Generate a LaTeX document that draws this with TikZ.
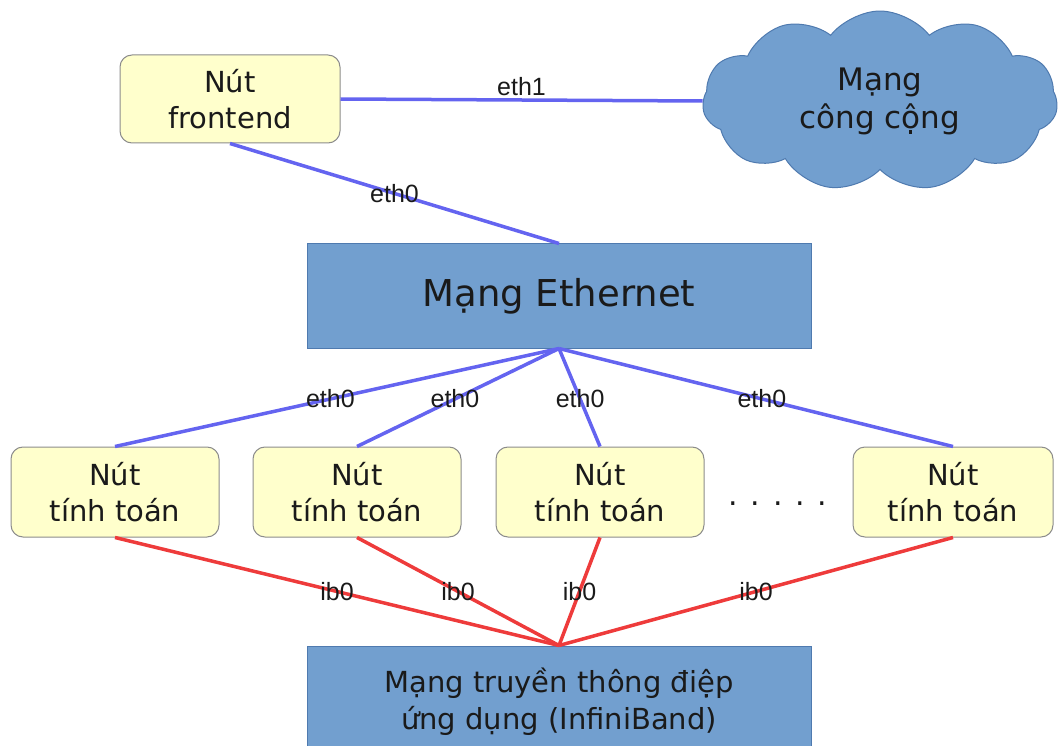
\documentclass[tikz,border=0pt]{standalone}
\usepackage{fontspec}
\setmainfont{DejaVu Sans}
\newfontfamily\labelfont{Liberation Sans}
\usetikzlibrary{shapes.symbols}
\definecolor{nodeyellow}{HTML}{FFFFCC}
\definecolor{nodeborder}{HTML}{8C8C8C}
\definecolor{netblue}{HTML}{729FCF}
\definecolor{netborder}{HTML}{4F7AAF}
\definecolor{ethline}{HTML}{6464F0}
\definecolor{ibline}{HTML}{EE3B3B}
\definecolor{txt}{HTML}{1A1A1A}
\begin{document}
\begin{tikzpicture}[x=1pt,y=-1pt,
  nodebox/.style={draw=nodeborder, line width=1pt, fill=nodeyellow, rounded corners=12pt,
    minimum width=208pt, minimum height=90pt, align=center, text=txt,
    font=\fontsize{29}{36}\selectfont, inner sep=0pt},
  netbox/.style={draw=netborder, line width=1pt, fill=netblue, minimum width=504pt,
    align=center, inner sep=0pt, text=txt},
  ethlink/.style={draw=ethline, line width=3.5pt},
  iblink/.style={draw=ibline, line width=3.5pt},
  lbl/.style={font=\labelfont\fontsize{25}{28}\selectfont, inner sep=0pt, text=txt},
]
\useasboundingbox (0,0) rectangle (1058,746);

% nodes
\node[nodebox, minimum width=220pt, minimum height=88pt] (fe) at (230,99) {Nút\\frontend};
\node[cloud, cloud puffs=11, cloud puff arc=105, cloud ignores aspect, minimum width=355pt, minimum height=180pt,
  draw=netborder, line width=1pt, fill=netblue, align=center, text=txt,
  font=\fontsize{31}{38}\selectfont] (pub) at (880,101) {Mạng\\công cộng};
\node[netbox, minimum height=104pt, font=\fontsize{37}{42}\selectfont] (eth) at (559,296) {Mạng Ethernet};
\node[nodebox] (c1) at (115,492) {Nút\\tính toán};
\node[nodebox] (c2) at (357,492) {Nút\\tính toán};
\node[nodebox] (c3) at (600,492) {Nút\\tính toán};
\node[nodebox, minimum width=200pt] (c4) at (953,492) {Nút\\tính toán};
\node[font=\fontsize{30}{36}\selectfont, text=txt, anchor=base, inner sep=0pt] (dots) at (778,505) {. . . . .};
\node[netbox, minimum height=112pt, font=\fontsize{29}{37}\selectfont] (ib) at (559,702) {Mạng truyền thông điệp\\ứng dụng (InfiniBand)};

% ethernet links
\draw[ethlink] (fe.east) -- node[lbl, pos=0.5, yshift=13pt] {eth1} (pub.west);
\draw[ethlink] (fe.south) -- node[lbl, pos=0.5] {eth0} (eth.north);
\draw[ethlink] (eth.south) -- node[lbl, pos=0.515] {eth0} (c1.north);
\draw[ethlink] (eth.south) -- node[lbl, pos=0.515] {eth0} (c2.north);
\draw[ethlink] (eth.south) -- node[lbl, pos=0.515] {eth0} (c3.north);
\draw[ethlink] (eth.south) -- node[lbl, pos=0.515] {eth0} (c4.north);

% infiniband links
\draw[iblink] (ib.north) -- node[lbl, pos=0.5] {ib0} (c1.south);
\draw[iblink] (ib.north) -- node[lbl, pos=0.5] {ib0} (c2.south);
\draw[iblink] (ib.north) -- node[lbl, pos=0.5] {ib0} (c3.south);
\draw[iblink] (ib.north) -- node[lbl, pos=0.5] {ib0} (c4.south);
\end{tikzpicture}
\end{document}
